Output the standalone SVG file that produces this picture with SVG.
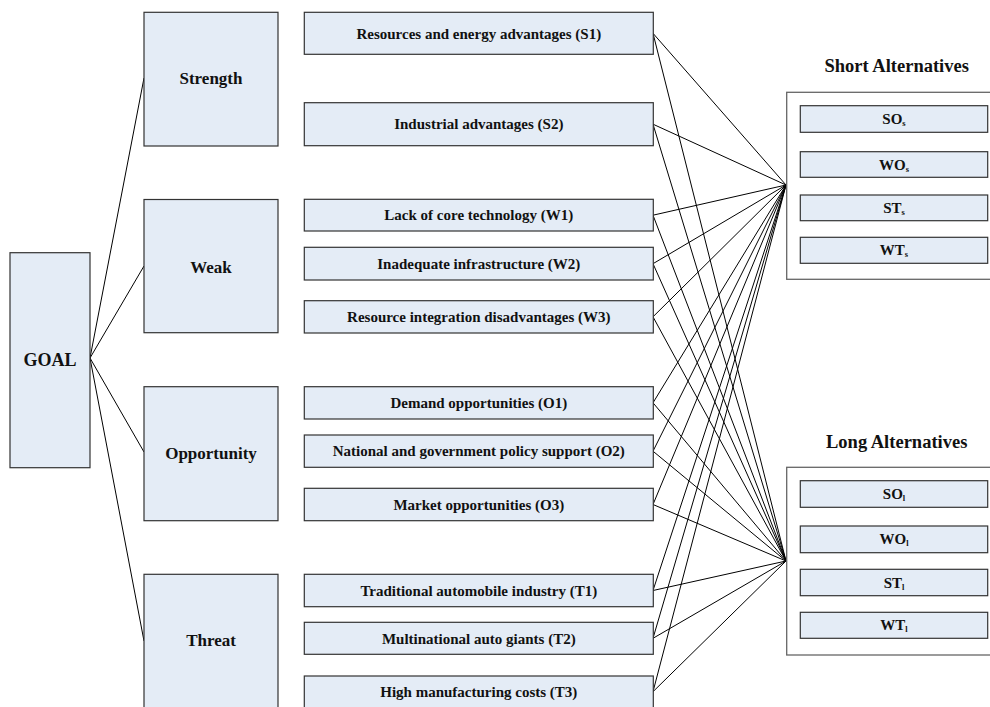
<svg xmlns="http://www.w3.org/2000/svg" width="990" height="707" viewBox="0 0 990 707">
<style>
.box{fill:#e4ecf6;stroke:#333;stroke-width:1.2}
.cont{fill:#fff;stroke:#666;stroke-width:1.3}
.t{font-family:"Liberation Serif","Times New Roman",serif;font-weight:bold;fill:#111;text-anchor:middle}
.m{font-size:15px}
.c{font-size:17px}
.g{font-size:18px}
.h{font-size:18.5px}
.a{font-size:15px}
.sub{font-size:8.5px}
#connectors line{stroke:#000;stroke-width:1}
</style>
<rect width="990" height="707" fill="#fff"/>
<g id="connectors">
<line x1="90" y1="358" x2="144" y2="78"/>
<line x1="90" y1="358" x2="144" y2="266"/>
<line x1="90" y1="358" x2="144" y2="452"/>
<line x1="90" y1="358" x2="144" y2="641"/>
<line x1="653" y1="33.3" x2="786" y2="185"/><line x1="653" y1="33.3" x2="786" y2="561"/>
<line x1="653" y1="124.2" x2="786" y2="185"/><line x1="653" y1="124.2" x2="786" y2="561"/>
<line x1="653" y1="215.2" x2="786" y2="185"/><line x1="653" y1="215.2" x2="786" y2="561"/>
<line x1="653" y1="263.7" x2="786" y2="185"/><line x1="653" y1="263.7" x2="786" y2="561"/>
<line x1="653" y1="316.8" x2="786" y2="185"/><line x1="653" y1="316.8" x2="786" y2="561"/>
<line x1="653" y1="402.8" x2="786" y2="185"/><line x1="653" y1="402.8" x2="786" y2="561"/>
<line x1="653" y1="451.2" x2="786" y2="185"/><line x1="653" y1="451.2" x2="786" y2="561"/>
<line x1="653" y1="504.5" x2="786" y2="185"/><line x1="653" y1="504.5" x2="786" y2="561"/>
<line x1="653" y1="590.5" x2="786" y2="185"/><line x1="653" y1="590.5" x2="786" y2="561"/>
<line x1="653" y1="638.3" x2="786" y2="185"/><line x1="653" y1="638.3" x2="786" y2="561"/>
<line x1="653" y1="691.7" x2="786" y2="185"/><line x1="653" y1="691.7" x2="786" y2="561"/>
</g>
<g id="goal"><rect class="box" x="10" y="252.7" width="80" height="215"/><text class="t g" x="50" y="366">GOAL</text></g>
<g id="strength"><rect class="box" x="144" y="12.3" width="134" height="133.7"/><text class="t c" x="211" y="84">Strength</text></g>
<g id="weak"><rect class="box" x="144" y="199.5" width="134" height="133.2"/><text class="t c" x="211" y="273">Weak</text></g>
<g id="opportunity"><rect class="box" x="144" y="386.7" width="134" height="134"/><text class="t c" x="211" y="459">Opportunity</text></g>
<g id="threat"><rect class="box" x="144" y="574.3" width="134" height="140"/><text class="t c" x="211" y="646">Threat</text></g>
<g id="s1"><rect class="box" x="304.3" y="12.3" width="349" height="42"/><text class="t m" x="478.8" y="38.5">Resources and energy advantages (S1)</text></g>
<g id="s2"><rect class="box" x="304.3" y="102.7" width="349" height="43"/><text class="t m" x="478.8" y="129.4">Industrial advantages (S2)</text></g>
<g id="w1"><rect class="box" x="304.3" y="199.3" width="349" height="31.7"/><text class="t m" x="478.8" y="220.4">Lack of core technology (W1)</text></g>
<g id="w2"><rect class="box" x="304.3" y="247.3" width="349" height="32.7"/><text class="t m" x="478.8" y="268.9">Inadequate infrastructure (W2)</text></g>
<g id="w3"><rect class="box" x="304.3" y="300.7" width="349" height="32.3"/><text class="t m" x="478.8" y="322">Resource integration disadvantages (W3)</text></g>
<g id="o1"><rect class="box" x="304.3" y="386.7" width="349" height="32.3"/><text class="t m" x="478.8" y="408">Demand opportunities (O1)</text></g>
<g id="o2"><rect class="box" x="304.3" y="435" width="349" height="32.3"/><text class="t m" x="478.8" y="456.4">National and government policy support (O2)</text></g>
<g id="o3"><rect class="box" x="304.3" y="488.3" width="349" height="32.4"/><text class="t m" x="478.8" y="509.7">Market opportunities (O3)</text></g>
<g id="t1"><rect class="box" x="304.3" y="574.3" width="349" height="32.4"/><text class="t m" x="478.8" y="595.7">Traditional automobile industry (T1)</text></g>
<g id="t2"><rect class="box" x="304.3" y="622.3" width="349" height="32"/><text class="t m" x="478.8" y="643.5">Multinational auto giants (T2)</text></g>
<g id="t3"><rect class="box" x="304.3" y="676" width="349" height="32"/><text class="t m" x="478.8" y="696.9">High manufacturing costs (T3)</text></g>
<g id="short">
<text class="t h" x="896.7" y="72">Short Alternatives</text>
<rect class="cont" x="786.7" y="92.3" width="210" height="187"/>
<rect class="box" x="800.3" y="105.7" width="187.4" height="26.6"/><text class="t a" x="894" y="124">SO<tspan class="sub" dy="2">s</tspan></text>
<rect class="box" x="800.3" y="151.7" width="187.4" height="25.6"/><text class="t a" x="894" y="169.5">WO<tspan class="sub" dy="2">s</tspan></text>
<rect class="box" x="800.3" y="195" width="187.4" height="25.7"/><text class="t a" x="894" y="212.8">ST<tspan class="sub" dy="2">s</tspan></text>
<rect class="box" x="800.3" y="237.3" width="187.4" height="26"/><text class="t a" x="894" y="255.3">WT<tspan class="sub" dy="2">s</tspan></text>
</g>
<g id="long">
<text class="t h" x="896.7" y="448">Long Alternatives</text>
<rect class="cont" x="786.7" y="467.3" width="210" height="187.7"/>
<rect class="box" x="800.3" y="480.7" width="187.4" height="26.6"/><text class="t a" x="894" y="499">SO<tspan class="sub" dy="2">l</tspan></text>
<rect class="box" x="800.3" y="526" width="187.4" height="26.7"/><text class="t a" x="894" y="544.3">WO<tspan class="sub" dy="2">l</tspan></text>
<rect class="box" x="800.3" y="569.3" width="187.4" height="26.4"/><text class="t a" x="894" y="587.5">ST<tspan class="sub" dy="2">l</tspan></text>
<rect class="box" x="800.3" y="612.3" width="187.4" height="26"/><text class="t a" x="894" y="630.3">WT<tspan class="sub" dy="2">l</tspan></text>
</g>
</svg>
